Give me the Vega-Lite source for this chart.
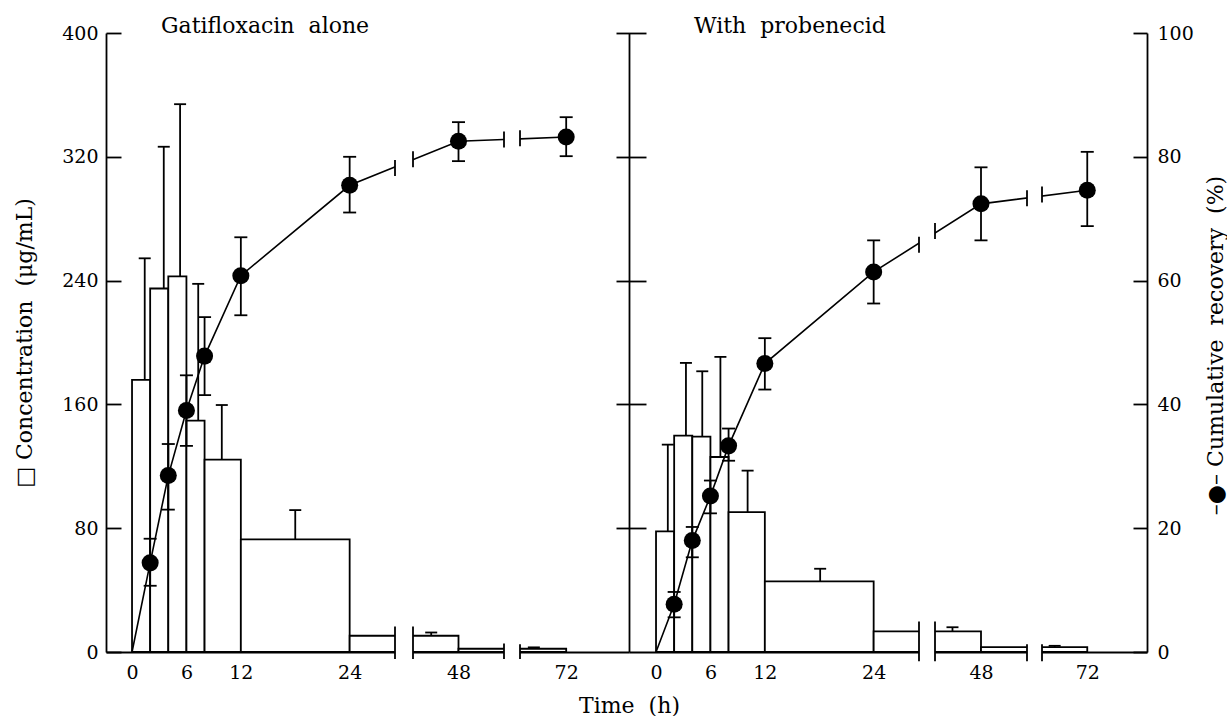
{
 "$schema": "https://vega.github.io/schema/vega-lite/v6.json",
 "padding": {"left": 13, "top": 15, "right": 0, "bottom": 0},
 "background": "white",
 "config": {"view": {"stroke": null}, "font": "DejaVu Serif", "axis": {"zindex": 0}},
 "datasets": {
  "left_bars": [
   {"t_start": 0, "t_end": 2, "conc": 175.8, "conc_upper": 254.4, "t_err": 1.4},
   {"t_start": 2, "t_end": 4, "conc": 234.9, "conc_upper": 326.5, "t_err": 3.5},
   {"t_start": 4, "t_end": 6, "conc": 242.7, "conc_upper": 354, "t_err": 5.3},
   {"t_start": 6, "t_end": 8, "conc": 149.5, "conc_upper": 237.9, "t_err": 7.3},
   {"t_start": 8, "t_end": 12, "conc": 124.3, "conc_upper": 159.6, "t_err": 9.9},
   {"t_start": 12, "t_end": 24, "conc": 72.8, "conc_upper": 91.7, "t_err": 18},
   {"t_start": 24, "t_end": 48, "conc": 10.5, "conc_upper": 12.6, "t_err": 45},
   {"t_start": 48, "t_end": 72, "conc": 2.1, "conc_upper": 3, "t_err": 68.5}
  ],
  "left_rec": [
   {"t": 0, "rec": 0},
   {"t": 2, "rec": 14.4, "lo": 10.7, "hi": 18.3},
   {"t": 4, "rec": 28.5, "lo": 23.0, "hi": 33.6},
   {"t": 6, "rec": 39.0, "lo": 33.3, "hi": 44.7},
   {"t": 8, "rec": 47.8, "lo": 41.5, "hi": 54.1},
   {"t": 12, "rec": 60.8, "lo": 54.4, "hi": 67.0},
   {"t": 24, "rec": 75.4, "lo": 71.0, "hi": 80.0},
   {"t": 48, "rec": 82.5, "lo": 79.3, "hi": 85.6},
   {"t": 72, "rec": 83.2, "lo": 80.1, "hi": 86.4}
  ],
  "right_bars": [
   {"t_start": 0, "t_end": 2, "conc": 77.9, "conc_upper": 134, "t_err": 1.3},
   {"t_start": 2, "t_end": 4, "conc": 139.8, "conc_upper": 186.8, "t_err": 3.3},
   {"t_start": 4, "t_end": 6, "conc": 139.2, "conc_upper": 181.4, "t_err": 5.1},
   {"t_start": 6, "t_end": 8, "conc": 126, "conc_upper": 190.7, "t_err": 7.1},
   {"t_start": 8, "t_end": 12, "conc": 90.4, "conc_upper": 117.2, "t_err": 10.1},
   {"t_start": 12, "t_end": 24, "conc": 45.6, "conc_upper": 53.8, "t_err": 18.1},
   {"t_start": 24, "t_end": 48, "conc": 13.3, "conc_upper": 16, "t_err": 44.9},
   {"t_start": 48, "t_end": 72, "conc": 3.1, "conc_upper": 4, "t_err": 68.4}
  ],
  "right_rec": [
   {"t": 0, "rec": 0},
   {"t": 2, "rec": 7.7, "lo": 5.6, "hi": 9.7},
   {"t": 4, "rec": 18.0, "lo": 15.3, "hi": 20.2},
   {"t": 6, "rec": 25.2, "lo": 22.4, "hi": 27.7},
   {"t": 8, "rec": 33.3, "lo": 30.9, "hi": 36.1},
   {"t": 12, "rec": 46.6, "lo": 42.4, "hi": 50.7},
   {"t": 24, "rec": 61.4, "lo": 56.3, "hi": 66.5},
   {"t": 48, "rec": 72.4, "lo": 66.5, "hi": 78.3},
   {"t": 72, "rec": 74.6, "lo": 68.8, "hi": 80.8}
  ],
  "left_linecaps": [{"t": 29, "rec": 78.2}, {"t": 43, "rec": 79.6}, {"t": 53, "rec": 82.8}, {"t": 67, "rec": 83.0}],
  "right_linecaps": [{"t": 29, "rec": 65.8}, {"t": 43, "rec": 68.0}, {"t": 53, "rec": 73.3}, {"t": 67, "rec": 73.9}],
  "left_axiscaps": [{"t": 29, "lo": -4.5, "hi": 16.5}, {"t": 43, "lo": -4.5, "hi": 16.5}, {"t": 53, "lo": -4.5, "hi": 5.5}, {"t": 67, "lo": -4.5, "hi": 5}],
  "right_axiscaps": [{"t": 29, "lo": -6, "hi": 19.7}, {"t": 43, "lo": -6, "hi": 19.7}, {"t": 53, "lo": -6, "hi": 5}, {"t": 67, "lo": -6, "hi": 5}],
  "breaks": [{"g0": 29, "g1": 43}, {"g0": 53, "g1": 67}]
 },
 "hconcat": [
  {
   "width": 523, "height": 619,
   "title": {"text": "Gatifloxacin \u00a0alone", "anchor": "start", "frame": "group", "dx": 55, "offset": -31, "baseline": "alphabetic", "fontSize": 22, "font": "DejaVu Serif", "fontWeight": "normal", "color": "black"},
   "resolve": {"scale": {"y": "independent"}, "axis": {"y": "independent"}},
   "layer": [
    {"data": {"name": "left_bars"},
     "layer": [
      {"mark": {"type": "rect", "fill": "white", "stroke": "black", "strokeWidth": 1.8},
       "encoding": {
        "x": {"field": "t_start", "type": "quantitative", "scale": {"type": "linear", "domain": [-2.87, 29, 43, 53, 67, 78.8], "range": [0, 289, 307, 398, 414, 523], "nice": false, "zero": false},
              "axis": {"values": [0, 6, 12, 24, 48, 72], "ticks": false, "labelPadding": 11, "domainColor": "black", "domainWidth": 1.8, "labelFont": "DejaVu Serif", "labelFontSize": 19, "labelColor": "black", "grid": false, "zindex": 0, "labelOverlap": false, "labelFlush": false, "title": "Time \u00a0(h)", "titleFont": "DejaVu Serif", "titleFontSize": 22, "titleFontWeight": "normal", "titleColor": "black", "titleX": 523, "titleY": 60, "titleBaseline": "alphabetic", "titleAlign": "center"}},
        "x2": {"field": "t_end"},
        "y": {"field": "conc", "type": "quantitative", "scale": {"domain": [0, 400], "nice": false, "zero": false},
              "axis": {"values": [0, 80, 160, 240, 320, 400], "tickSize": -15, "tickColor": "black", "tickWidth": 1.8, "domainColor": "black", "domainWidth": 1.8, "labelPadding": 23, "labelFont": "DejaVu Serif", "labelFontSize": 19, "labelColor": "black", "grid": false, "zindex": 0, "title": "□ Concentration\u00a0 (μg/mL)", "titleFont": "DejaVu Serif", "titleFontSize": 22, "titleFontWeight": "normal", "titleColor": "black", "titlePadding": 25}},
        "y2": {"datum": 0}
       }},
      {"mark": {"type": "rule", "color": "black", "strokeWidth": 1.8},
       "encoding": {
        "x": {"field": "t_err", "type": "quantitative", "scale": {"type": "linear", "domain": [-2.87, 29, 43, 53, 67, 78.8], "range": [0, 289, 307, 398, 414, 523], "nice": false, "zero": false}},
        "y": {"field": "conc", "type": "quantitative", "scale": {"domain": [0, 400], "nice": false, "zero": false}},
        "y2": {"field": "conc_upper"}
       }},
      {"mark": {"type": "tick", "orient": "horizontal", "size": 12, "thickness": 1.8, "color": "black", "opacity": 1},
       "encoding": {
        "x": {"field": "t_err", "type": "quantitative", "scale": {"type": "linear", "domain": [-2.87, 29, 43, 53, 67, 78.8], "range": [0, 289, 307, 398, 414, 523], "nice": false, "zero": false}},
        "y": {"field": "conc_upper", "type": "quantitative", "scale": {"domain": [0, 400], "nice": false, "zero": false}}
       }}
     ]},
    {"data": {"name": "left_rec"},
     "layer": [
      {"mark": {"type": "line", "color": "black", "strokeWidth": 1.6},
       "encoding": {
        "x": {"field": "t", "type": "quantitative", "scale": {"type": "linear", "domain": [-2.87, 29, 43, 53, 67, 78.8], "range": [0, 289, 307, 398, 414, 523], "nice": false, "zero": false}},
        "y": {"field": "rec", "type": "quantitative", "scale": {"domain": [0, 100], "nice": false, "zero": false},
              "axis": {"orient": "right", "values": [20, 40, 60, 80, 100], "tickSize": 30, "offset": -13, "labels": false, "domain": false, "title": null, "grid": false, "tickColor": "black", "tickWidth": 1.8, "zindex": 0}}
       }},
      {"transform": [{"filter": "datum.t > 0"}],
       "mark": {"type": "rule", "color": "black", "strokeWidth": 1.8},
       "encoding": {
        "x": {"field": "t", "type": "quantitative", "scale": {"type": "linear", "domain": [-2.87, 29, 43, 53, 67, 78.8], "range": [0, 289, 307, 398, 414, 523], "nice": false, "zero": false}},
        "y": {"field": "lo", "type": "quantitative", "scale": {"domain": [0, 100], "nice": false, "zero": false}},
        "y2": {"field": "hi"}
       }},
      {"transform": [{"filter": "datum.t > 0"}],
       "mark": {"type": "tick", "orient": "horizontal", "size": 13, "thickness": 1.8, "color": "black", "opacity": 1},
       "encoding": {
        "x": {"field": "t", "type": "quantitative", "scale": {"type": "linear", "domain": [-2.87, 29, 43, 53, 67, 78.8], "range": [0, 289, 307, 398, 414, 523], "nice": false, "zero": false}},
        "y": {"field": "lo", "type": "quantitative", "scale": {"domain": [0, 100], "nice": false, "zero": false}}
       }},
      {"transform": [{"filter": "datum.t > 0"}],
       "mark": {"type": "tick", "orient": "horizontal", "size": 13, "thickness": 1.8, "color": "black", "opacity": 1},
       "encoding": {
        "x": {"field": "t", "type": "quantitative", "scale": {"type": "linear", "domain": [-2.87, 29, 43, 53, 67, 78.8], "range": [0, 289, 307, 398, 414, 523], "nice": false, "zero": false}},
        "y": {"field": "hi", "type": "quantitative", "scale": {"domain": [0, 100], "nice": false, "zero": false}}
       }},
      {"transform": [{"filter": "datum.t > 0"}],
       "mark": {"type": "point", "filled": true, "size": 290, "color": "black", "opacity": 1},
       "encoding": {
        "x": {"field": "t", "type": "quantitative", "scale": {"type": "linear", "domain": [-2.87, 29, 43, 53, 67, 78.8], "range": [0, 289, 307, 398, 414, 523], "nice": false, "zero": false}},
        "y": {"field": "rec", "type": "quantitative", "scale": {"domain": [0, 100], "nice": false, "zero": false}}
       }}
     ]},
    {"data": {"name": "breaks"},
     "mark": {"type": "rect", "fill": "white", "strokeWidth": 0},
     "encoding": {
      "x": {"field": "g0", "type": "quantitative", "scale": {"type": "linear", "domain": [-2.87, 29, 43, 53, 67, 78.8], "range": [0, 289, 307, 398, 414, 523], "nice": false, "zero": false}},
      "x2": {"field": "g1"},
      "y": {"datum": 400, "type": "quantitative", "scale": {"domain": [0, 400], "nice": false, "zero": false}, "axis": null},
      "y2": {"datum": -3}
     }},
    {"data": {"name": "left_axiscaps"},
     "mark": {"type": "rule", "color": "black", "strokeWidth": 1.8},
     "encoding": {
      "x": {"field": "t", "type": "quantitative", "scale": {"type": "linear", "domain": [-2.87, 29, 43, 53, 67, 78.8], "range": [0, 289, 307, 398, 414, 523], "nice": false, "zero": false}},
      "y": {"field": "lo", "type": "quantitative", "scale": {"domain": [0, 400], "nice": false, "zero": false}, "axis": null},
      "y2": {"field": "hi"}
     }},
    {"data": {"name": "left_linecaps"},
     "mark": {"type": "tick", "orient": "vertical", "size": 16, "thickness": 1.8, "color": "black", "opacity": 1},
     "encoding": {
      "x": {"field": "t", "type": "quantitative", "scale": {"type": "linear", "domain": [-2.87, 29, 43, 53, 67, 78.8], "range": [0, 289, 307, 398, 414, 523], "nice": false, "zero": false}},
      "y": {"field": "rec", "type": "quantitative", "scale": {"domain": [0, 100], "nice": false, "zero": false}, "axis": null}
     }}
   ]
  },
  {
   "width": 518, "height": 619,
   "title": {"text": "With \u00a0probenecid", "anchor": "start", "frame": "group", "dx": 65, "offset": -31, "baseline": "alphabetic", "fontSize": 22, "font": "DejaVu Serif", "fontWeight": "normal", "color": "black"},
   "resolve": {"scale": {"y": "independent"}, "axis": {"y": "independent"}},
   "layer": [
    {"data": {"name": "right_bars"},
     "layer": [
      {"mark": {"type": "rect", "fill": "white", "stroke": "black", "strokeWidth": 1.8},
       "encoding": {
        "x": {"field": "t_start", "type": "quantitative", "scale": {"type": "linear", "domain": [-2.98, 29, 43, 53, 67, 78.6], "range": [0, 290, 306, 398, 413, 518], "nice": false, "zero": false},
              "axis": {"values": [0, 6, 12, 24, 48, 72], "ticks": false, "labelPadding": 11, "domainColor": "black", "domainWidth": 1.8, "labelFont": "DejaVu Serif", "labelFontSize": 19, "labelColor": "black", "grid": false, "zindex": 0, "labelOverlap": false, "labelFlush": false, "title": null}},
        "x2": {"field": "t_end"},
        "y": {"field": "conc", "type": "quantitative", "scale": {"domain": [0, 400], "nice": false, "zero": false},
              "axis": {"orient": "left", "values": [0], "ticks": false, "labels": false, "domain": true, "domainColor": "black", "domainWidth": 1.8, "title": null, "grid": false, "zindex": 0}},
        "y2": {"datum": 0}
       }},
      {"mark": {"type": "rule", "color": "black", "strokeWidth": 1.8},
       "encoding": {
        "x": {"field": "t_err", "type": "quantitative", "scale": {"type": "linear", "domain": [-2.98, 29, 43, 53, 67, 78.6], "range": [0, 290, 306, 398, 413, 518], "nice": false, "zero": false}},
        "y": {"field": "conc", "type": "quantitative", "scale": {"domain": [0, 400], "nice": false, "zero": false}},
        "y2": {"field": "conc_upper"}
       }},
      {"mark": {"type": "tick", "orient": "horizontal", "size": 12, "thickness": 1.8, "color": "black", "opacity": 1},
       "encoding": {
        "x": {"field": "t_err", "type": "quantitative", "scale": {"type": "linear", "domain": [-2.98, 29, 43, 53, 67, 78.6], "range": [0, 290, 306, 398, 413, 518], "nice": false, "zero": false}},
        "y": {"field": "conc_upper", "type": "quantitative", "scale": {"domain": [0, 400], "nice": false, "zero": false}}
       }}
     ]},
    {"data": {"name": "right_rec"},
     "layer": [
      {"mark": {"type": "line", "color": "black", "strokeWidth": 1.6},
       "encoding": {
        "x": {"field": "t", "type": "quantitative", "scale": {"type": "linear", "domain": [-2.98, 29, 43, 53, 67, 78.6], "range": [0, 290, 306, 398, 413, 518], "nice": false, "zero": false}},
        "y": {"field": "rec", "type": "quantitative", "scale": {"domain": [0, 100], "nice": false, "zero": false},
              "axis": {"orient": "right", "values": [0, 20, 40, 60, 80, 100], "tickSize": -14, "tickColor": "black", "tickWidth": 1.8, "domainColor": "black", "domainWidth": 1.8, "labelPadding": 24, "labelFont": "DejaVu Serif", "labelFontSize": 19, "labelColor": "black", "grid": false, "zindex": 0, "title": "–●– Cumulative\u00a0 recovery\u00a0 (%)", "titleFont": "DejaVu Serif", "titleFontSize": 22, "titleFontWeight": "normal", "titleColor": "black", "titleAngle": 270, "titleAlign": "center", "titleY": 312, "titlePadding": 34}}
       }},
      {"transform": [{"filter": "datum.t > 0"}],
       "mark": {"type": "rule", "color": "black", "strokeWidth": 1.8},
       "encoding": {
        "x": {"field": "t", "type": "quantitative", "scale": {"type": "linear", "domain": [-2.98, 29, 43, 53, 67, 78.6], "range": [0, 290, 306, 398, 413, 518], "nice": false, "zero": false}},
        "y": {"field": "lo", "type": "quantitative", "scale": {"domain": [0, 100], "nice": false, "zero": false}},
        "y2": {"field": "hi"}
       }},
      {"transform": [{"filter": "datum.t > 0"}],
       "mark": {"type": "tick", "orient": "horizontal", "size": 13, "thickness": 1.8, "color": "black", "opacity": 1},
       "encoding": {
        "x": {"field": "t", "type": "quantitative", "scale": {"type": "linear", "domain": [-2.98, 29, 43, 53, 67, 78.6], "range": [0, 290, 306, 398, 413, 518], "nice": false, "zero": false}},
        "y": {"field": "lo", "type": "quantitative", "scale": {"domain": [0, 100], "nice": false, "zero": false}}
       }},
      {"transform": [{"filter": "datum.t > 0"}],
       "mark": {"type": "tick", "orient": "horizontal", "size": 13, "thickness": 1.8, "color": "black", "opacity": 1},
       "encoding": {
        "x": {"field": "t", "type": "quantitative", "scale": {"type": "linear", "domain": [-2.98, 29, 43, 53, 67, 78.6], "range": [0, 290, 306, 398, 413, 518], "nice": false, "zero": false}},
        "y": {"field": "hi", "type": "quantitative", "scale": {"domain": [0, 100], "nice": false, "zero": false}}
       }},
      {"transform": [{"filter": "datum.t > 0"}],
       "mark": {"type": "point", "filled": true, "size": 290, "color": "black", "opacity": 1},
       "encoding": {
        "x": {"field": "t", "type": "quantitative", "scale": {"type": "linear", "domain": [-2.98, 29, 43, 53, 67, 78.6], "range": [0, 290, 306, 398, 413, 518], "nice": false, "zero": false}},
        "y": {"field": "rec", "type": "quantitative", "scale": {"domain": [0, 100], "nice": false, "zero": false}}
       }}
     ]},
    {"data": {"name": "breaks"},
     "mark": {"type": "rect", "fill": "white", "strokeWidth": 0},
     "encoding": {
      "x": {"field": "g0", "type": "quantitative", "scale": {"type": "linear", "domain": [-2.98, 29, 43, 53, 67, 78.6], "range": [0, 290, 306, 398, 413, 518], "nice": false, "zero": false}},
      "x2": {"field": "g1"},
      "y": {"datum": 400, "type": "quantitative", "scale": {"domain": [0, 400], "nice": false, "zero": false}, "axis": null},
      "y2": {"datum": -3}
     }},
    {"data": {"name": "right_axiscaps"},
     "mark": {"type": "rule", "color": "black", "strokeWidth": 1.8},
     "encoding": {
      "x": {"field": "t", "type": "quantitative", "scale": {"type": "linear", "domain": [-2.98, 29, 43, 53, 67, 78.6], "range": [0, 290, 306, 398, 413, 518], "nice": false, "zero": false}},
      "y": {"field": "lo", "type": "quantitative", "scale": {"domain": [0, 400], "nice": false, "zero": false}, "axis": null},
      "y2": {"field": "hi"}
     }},
    {"data": {"name": "right_linecaps"},
     "mark": {"type": "tick", "orient": "vertical", "size": 16, "thickness": 1.8, "color": "black", "opacity": 1},
     "encoding": {
      "x": {"field": "t", "type": "quantitative", "scale": {"type": "linear", "domain": [-2.98, 29, 43, 53, 67, 78.6], "range": [0, 290, 306, 398, 413, 518], "nice": false, "zero": false}},
      "y": {"field": "rec", "type": "quantitative", "scale": {"domain": [0, 100], "nice": false, "zero": false}, "axis": null}
     }}
   ]
  }
 ],
 "spacing": 0,
 "bounds": "flush"
}
